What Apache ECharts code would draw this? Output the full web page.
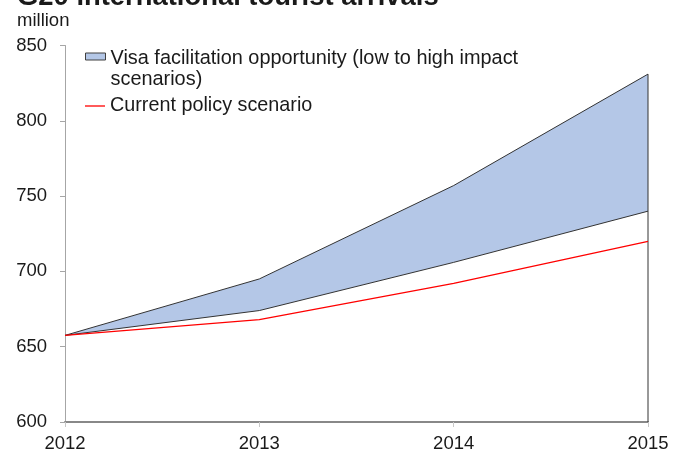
<!DOCTYPE html>
<html>
<head>
<meta charset="utf-8">
<script src="https://cdn.jsdelivr.net/npm/echarts@6/dist/echarts.min.js"></script>
<style>html,body{margin:0;padding:0;background:#fff}#c{width:673px;height:454px}</style>
</head>
<body>
<div id="c"></div>
<script>
var years = ['2012', '2013', '2014', '2015'];
var currentPolicy = [657.5, 668, 692, 720];
var lowImpact = [657.5, 674, 706, 740];
var highImpact = [657.5, 695, 757, 831];
var yTicks = [600, 650, 700, 750, 800, 850];

var FONT = '"Liberation Sans", Arial, sans-serif';
var band = highImpact.map(function (v, i) { return +(v - lowImpact[i]).toFixed(2); });
var lastYear = years[years.length - 1];
var yMin = yTicks[0], yMax = yTicks[yTicks.length - 1];
var L = 20.7;
var H0 = L + 4;
var bandName = 'Visa facilitation opportunity (low to high impact\nscenarios)';
var policyName = 'Current policy scenario';

var chart = echarts.init(document.getElementById('c'), null, {renderer: 'canvas'});
chart.setOption({
  animation: false,
  backgroundColor: '#fff',
  title: [
    {text: 'G20 international tourist arrivals', left: 17, top: -16, padding: 0,
     textStyle: {fontFamily: FONT, fontSize: 27.4, fontWeight: 'bold', color: '#1a1a1a', lineHeight: 27}},
    {text: 'million', left: 17, top: 11, padding: 0,
     textStyle: {fontFamily: FONT, fontSize: 18.5, fontWeight: 'normal', color: '#1a1a1a', lineHeight: 20}}
  ],
  legend: [
    {
      left: 85, top: 56.5 - (H0 + 2 * L) / 2, padding: 0, orient: 'vertical',
      itemWidth: 20, itemHeight: 7, itemGap: 0,
      data: [{name: bandName, icon: 'rect',
              itemStyle: {color: '#b4c7e7', borderColor: '#404040', borderWidth: 1}}],
      formatter: function (name) {
        return '{s| }\n' + name.split('\n').map(function (t) { return '{t|' + t + '}'; }).join('\n');
      },
      textStyle: {
        fontFamily: FONT, fontSize: 19.9, color: '#1a1a1a', lineHeight: L,
        rich: {
          s: {fontFamily: FONT, fontSize: 10, lineHeight: H0, height: H0},
          t: {fontFamily: FONT, fontSize: 19.9, color: '#1a1a1a', lineHeight: L}
        }
      },
      selectedMode: false
    },
    {
      left: 85, top: 106 - L / 2, padding: 0, orient: 'vertical',
      itemWidth: 20, itemHeight: 1.3, itemGap: 0,
      data: [{name: policyName, icon: 'path://M0,0H20V1.3H0Z', itemStyle: {color: '#ff0000'}}],
      textStyle: {fontFamily: FONT, fontSize: 19.8, color: '#1a1a1a', lineHeight: L},
      selectedMode: false
    }
  ],
  grid: {left: 65, right: 25, top: 45.5, bottom: 32, containLabel: false},
  xAxis: {
    type: 'category', data: years, boundaryGap: false,
    axisLine: {show: true, lineStyle: {color: '#888888', width: 2}},
    axisTick: {show: true, length: 5, lineStyle: {color: '#c8c8c8', width: 1}},
    axisLabel: {fontFamily: FONT, fontSize: 18.5, color: '#1a1a1a', margin: 12},
    splitLine: {show: false}
  },
  yAxis: {
    type: 'value', min: yMin, max: yMax, interval: 50,
    axisLine: {show: true, lineStyle: {color: '#a6a6a6', width: 1}},
    axisTick: {show: true, length: 5, lineStyle: {color: '#a6a6a6', width: 1}},
    axisLabel: {fontFamily: FONT, fontSize: 18.5, color: '#1a1a1a', margin: 18},
    splitLine: {show: false}
  },
  series: [
    {
      name: 'low', type: 'line', stack: 'band', data: lowImpact, symbol: 'none',
      lineStyle: {color: '#333333', width: 1}, z: 3
    },
    {
      name: bandName, type: 'line', stack: 'band',
      data: band, symbol: 'none',
      lineStyle: {color: '#333333', width: 1},
      itemStyle: {color: '#b4c7e7'},
      areaStyle: {color: '#b4c7e7', opacity: 1}, z: 2
    },
    {
      name: 'edge', type: 'line', data: [[lastYear, yMin], [lastYear, highImpact[highImpact.length - 1]]],
      symbol: 'none', lineStyle: {color: '#333333', width: 1}, z: 4
    },
    {
      name: policyName, type: 'line', data: currentPolicy, symbol: 'none',
      itemStyle: {color: '#ff0000'},
      lineStyle: {color: '#ff0000', width: 1.3}, z: 5
    }
  ]
});
</script>
</body>
</html>
